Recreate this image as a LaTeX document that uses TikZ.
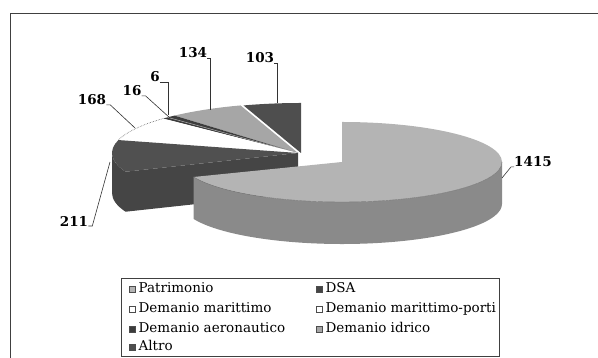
\documentclass[tikz,border=0pt]{standalone}
\usepackage{fontspec}
\setmainfont{DejaVu Serif}
\usetikzlibrary{calc,positioning}

\definecolor{ptop}{HTML}{B4B4B4}
\definecolor{pside}{HTML}{8A8A8A}
\definecolor{dsa}{HTML}{454545}
\definecolor{dsatop}{HTML}{505050}
\definecolor{idrico}{HTML}{A6A6A6}
\definecolor{altro}{HTML}{4E4E4E}
\definecolor{aero}{HTML}{3C3C3C}

\tikzset{
	num/.style={font=\bfseries\fontsize{13.5}{13.5}\selectfont, inner sep=0pt},
	leader/.style={draw=black!80, line width=0.6pt},
	key/.style={draw=black!70, line width=0.4pt, minimum size=6.5pt, inner sep=0pt},
	legtext/.style={font=\fontsize{13.5}{14}\selectfont, inner sep=0pt, text height=1.5ex, text depth=.25ex}
}

\begin{document}
\begin{tikzpicture}[x=1pt,y=1pt]
			\useasboundingbox (0,0) rectangle (598,358);
			\def \brx {186}
			\def \bry {50}
			\def \bh {40}
			\def \prx {160}
			\def \pry {40}
			\def \ph {42}
			\coordinate (B) at (298,205);
			\coordinate (P) at (342,196);
			
			%chart frame
			\draw[black!75, line width=0.8pt] (10,0) -- (10,345) -- (598,345);
			
			%back slices
			\fill[altro] ($(B)+(3,0)$) -- ++(0,\bry) arc[start angle=90, end angle=108, x radius=\brx, y radius=\bry] -- cycle;
			\fill[idrico] (B) -- ($(B)+({\brx*cos(108)},{\bry*sin(108)})$) arc[start angle=108, end angle=131.6, x radius=\brx, y radius=\bry] -- cycle;
			\fill[aero] (B) -- ($(B)+({\brx*cos(131.6)},{\bry*sin(131.6)})$) arc[start angle=131.6, end angle=136.5, x radius=\brx, y radius=\bry] -- cycle;
			\draw[black!30, line width=0.5pt] (B) -- ($(B)+({\brx*cos(134.5)},{\bry*sin(134.5)})$);
			\fill[white] (B) -- ($(B)+({\brx*cos(136.5)},{\bry*sin(136.5)})$) arc[start angle=136.5, end angle=165, x radius=\brx, y radius=\bry] -- cycle;
			\draw[black!60, densely dotted, line width=0.6pt] ($(B)+({\brx*cos(136.5)},{\bry*sin(136.5)})$) arc[start angle=136.5, end angle=165, x radius=\brx, y radius=\bry];
			
			%DSA front and top
			\fill[dsa] ($(B)+({\brx*cos(202)},{\bry*sin(202)})$) -- (B) -- ++(0,-\bh) -- ($(B)+({\brx*cos(202)},{\bry*sin(202)-\bh})$) arc[start angle=202, end angle=180, x radius=\brx, y radius=\bry] -- ++(0,\bh) arc[start angle=180, end angle=202, x radius=\brx, y radius=\bry] -- cycle;
			\fill[dsatop] (B) -- ($(B)+({\brx*cos(165)},{\bry*sin(165)})$) arc[start angle=165, end angle=202, x radius=\brx, y radius=\bry] -- cycle;
			
			%Patrimonio
			\fill[pside] ($(P)+(\prx,0)$) arc[start angle=0, end angle=-158, x radius=\prx, y radius=\pry] -- ++(0,-\ph) arc[start angle=-158, end angle=0, x radius=\prx, y radius=\pry] -- cycle;
			\fill[ptop] (P) -- ++(0,\pry) arc[start angle=90, end angle=-158, x radius=\prx, y radius=\pry] -- cycle;
			\draw[black!55, line width=0.4pt] ($(P)+(\prx,0)$) arc[start angle=0, end angle=-158, x radius=\prx, y radius=\pry];
			
			%value labels
			\node[num] (n1415) at (533,196) {1415};
			\node[num] (n103) at (260,300) {103};
			\node[num] (n134) at (193,305) {134};
			\node[num] (n6) at (155,281) {6};
			\node[num] (n16) at (132,267) {16};
			\node[num] (n168) at (92,258) {168};
			\node[num] (n211) at (74,137) {211};
			\coordinate (e1415) at (502,180);
			\coordinate (e103) at (277,255);
			\coordinate (e134) at (210,248);
			\coordinate (e6) at (168,243);
			\coordinate (e16) at (170,240);
			\coordinate (e168) at (135,230);
			\coordinate (e211) at (110,196);
			\draw[leader] (n1415.base west) -- ++(-3,0) -- (e1415);
			\draw[leader] (n103.base east) -| (e103);
			\draw[leader] (n134.base east) -| (e134);
			\draw[leader] (n6.base east) -| (e6);
			\draw[leader] (n16.base east) -- ++(4,0) -- (e16);
			\draw[leader] (n168.base east) -- ++(4,0) -- (e168);
			\draw[leader] (n211.base east) -- ++(4,0) -- (e211);
			
			%legend
			\draw[black!75, line width=0.6pt] (121.5,2) rectangle (499,80);
			\node[key, fill=ptop] (kPat) at (132,69) {};
			\node[legtext, right=3pt of kPat] (tPat) {Patrimonio};
			\node[key, fill=dsa] (kDsa) at (319,69) {};
			\node[legtext, right=3pt of kDsa] (tDsa) {DSA};
			\node[key, fill=white] (kMar) at (132,49) {};
			\node[legtext, right=3pt of kMar] (tMar) {Demanio marittimo};
			\node[key, fill=white] (kPor) at (319,49) {};
			\node[legtext, right=3pt of kPor] (tPor) {Demanio marittimo-porti};
			\node[key, fill=aero] (kAer) at (132,29) {};
			\node[legtext, right=3pt of kAer] (tAer) {Demanio aeronautico};
			\node[key, fill=idrico] (kIdr) at (319,29) {};
			\node[legtext, right=3pt of kIdr] (tIdr) {Demanio idrico};
			\node[key, fill=altro] (kAlt) at (132,11) {};
			\node[legtext, right=3pt of kAlt] (tAlt) {Altro};
\end{tikzpicture}
\end{document}
